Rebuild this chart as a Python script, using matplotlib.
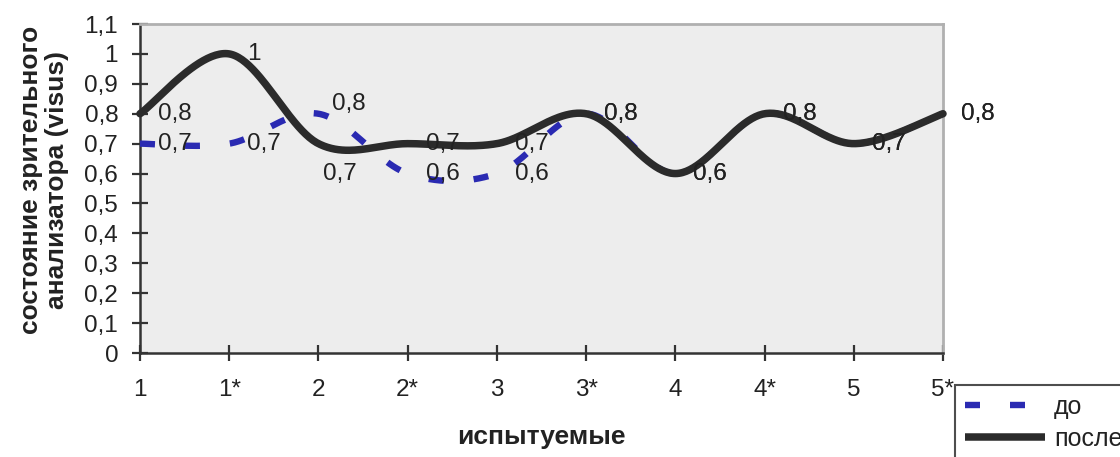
import numpy as np
import matplotlib
matplotlib.use('Agg')
import matplotlib.pyplot as plt
from matplotlib.lines import Line2D

plt.rcParams['font.family'] = ['Liberation Sans', 'DejaVu Sans']
plt.rcParams['lines.scale_dashes'] = False

categories = ['1', '1*', '2', '2*', '3', '3*', '4', '4*', '5', '5*']
before = [0.7, 0.7, 0.8, 0.6, 0.6, 0.8, 0.6, 0.8, 0.7, 0.8]   # до
after = [0.8, 1.0, 0.7, 0.7, 0.7, 0.8, 0.6, 0.8, 0.7, 0.8]    # после
yticks = [0, 0.1, 0.2, 0.3, 0.4, 0.5, 0.6, 0.7, 0.8, 0.9, 1.0, 1.1]
series_names = ['до', 'после']
ylabel = 'состояние зрительного\nанализатора (visus)'
xlabel = 'испытуемые'

BLUE = '#2a2ab2'
BLACK = '#2b2b2b'


def fmt(v):
    return f'{v:g}'.replace('.', ',')


def smooth(x, y, n=50):
    """Catmull-Rom (Excel-like) smoothing through the given points."""
    x = np.asarray(x, float)
    y = np.asarray(y, float)
    xp = np.concatenate([[x[0]], x, [x[-1]]])
    yp = np.concatenate([[y[0]], y, [y[-1]]])
    t = np.linspace(0, 1, n)
    h00 = 2 * t**3 - 3 * t**2 + 1
    h10 = t**3 - 2 * t**2 + t
    h01 = -2 * t**3 + 3 * t**2
    h11 = t**3 - t**2
    xs, ys = [], []
    for i in range(1, len(xp) - 2):
        for arr, out in ((xp, xs), (yp, ys)):
            p0, p1, p2, p3 = arr[i - 1], arr[i], arr[i + 1], arr[i + 2]
            m1 = (p2 - p0) / 2
            m2 = (p3 - p1) / 2
            out.append(h00 * p1 + h10 * m1 + h01 * p2 + h11 * m2)
    return np.concatenate(xs), np.concatenate(ys)


fig = plt.figure(figsize=(11.2, 4.57), dpi=100)
ax = fig.add_axes([140 / 1120, 1 - 353 / 457, (943 - 140) / 1120, (353 - 24) / 457])
ax.set_facecolor('#ededed')

x = np.arange(len(categories))
ax.plot(*smooth(x, before), color=BLUE, lw=4.6, dashes=(10.8, 21.6),
        solid_capstyle='butt', dash_capstyle='butt', clip_on=False, zorder=3)
ax.plot(*smooth(x, after), color=BLACK, lw=5.4, solid_capstyle='round', clip_on=False, zorder=4)

# data labels
fs = 17.5
before_off = [(13, 0)] * len(before)
before_off[2] = (10, 7)
after_off = [(13, 0)] * len(after)
after_off[2] = (3.5, -22)
for xi, v, off in zip(x, before, before_off):
    ax.annotate(fmt(v), (xi, v), xytext=off, textcoords='offset points',
                ha='left', va='center', fontsize=fs, color='#222222', zorder=5,
                annotation_clip=False)
for xi, v, off in zip(x, after, after_off):
    ax.annotate(fmt(v), (xi, v), xytext=off, textcoords='offset points',
                ha='left', va='center', fontsize=fs, color='#222222', zorder=5,
                annotation_clip=False)

ax.set_xlim(0, len(categories) - 1)
ax.set_ylim(0, 1.1)
ax.set_xticks(x)
ax.set_xticklabels(categories)
ax.set_yticks(yticks)
ax.set_yticklabels([fmt(v) for v in yticks])
ax.tick_params(axis='both', direction='inout', length=11.5, width=1.6,
               color='#333333', labelsize=17.5, labelcolor='#222222')
ax.tick_params(axis='y', pad=10)
ax.tick_params(axis='x', pad=13)

for s in ('left', 'bottom'):
    ax.spines[s].set_color('#333333')
    ax.spines[s].set_linewidth(1.8)
for s in ('top', 'right'):
    ax.spines[s].set_color('#b0b0b0')
    ax.spines[s].set_linewidth(2)

fig.text(44 / 1120, 1 - 180 / 457, ylabel, rotation=90, ha='center', va='center',
         fontsize=19, fontweight='bold', color='#222222', linespacing=1.15)
fig.text(541 / 1120, 1 - 437 / 457, xlabel, ha='center', va='center',
         fontsize=19, fontweight='bold', color='#222222')

handles = [Line2D([], [], color=BLUE, lw=4.6, dashes=(10.8, 21.6), dash_capstyle='butt'),
           Line2D([], [], color=BLACK, lw=5.4, solid_capstyle='butt')]
leg = fig.legend(handles, series_names, loc='upper left',
                 bbox_to_anchor=(955 / 1120, 1 - 385 / 457), bbox_transform=fig.transFigure,
                 fontsize=18, frameon=True, fancybox=False, edgecolor='#222222',
                 borderpad=0.4, handlelength=3.2, handletextpad=0.35, labelspacing=0.3,
                 borderaxespad=0)
leg.get_frame().set_linewidth(1.5)
for t in leg.get_texts():
    t.set_color('#222222')

fig.savefig('out.png', dpi=100)
